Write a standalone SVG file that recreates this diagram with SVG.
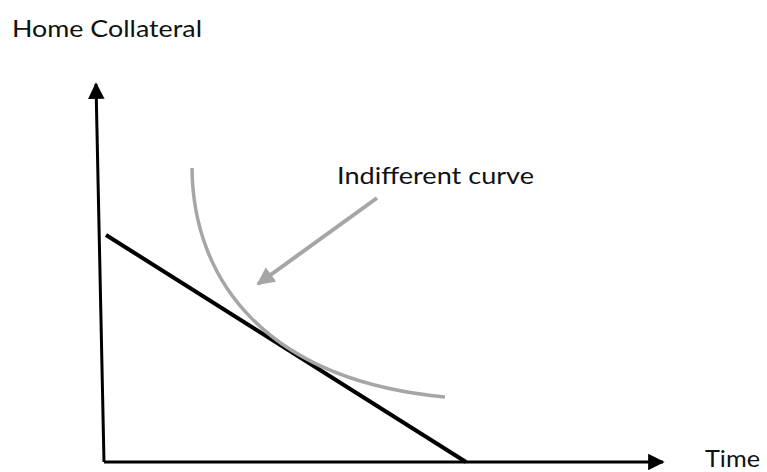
<svg xmlns="http://www.w3.org/2000/svg" width="767" height="472" viewBox="0 0 767 472">
<defs>
<style>
.lbl{font-family:Lato,"Open Sans","Liberation Sans",sans-serif;font-size:23.5px;fill:#111}
.axis{stroke:#000;stroke-width:3;fill:none}
</style>
<marker id="ah" viewBox="0 0 10 10" refX="9" refY="5" markerWidth="5.5" markerHeight="5.5" markerUnits="strokeWidth" orient="auto">
<path d="M0,0 L10,5 L0,10 Z" fill="#000"/>
</marker>
<marker id="gh" viewBox="0 0 10 10" refX="9" refY="5" markerWidth="4.5" markerHeight="4.5" markerUnits="strokeWidth" orient="auto">
<path d="M0,0 L10,5 L0,10 Z" fill="#a6a6a6"/>
</marker>
</defs>
<rect width="767" height="472" fill="#fff"/>
<g id="connectors">
<path id="y-axis" class="axis" d="M104,462 L96,84" marker-end="url(#ah)"/>
<path id="x-axis" class="axis" d="M104,462 L663,462" marker-end="url(#ah)"/>
<path id="budget-line" d="M106,235 L466,462" stroke="#000" stroke-width="4" fill="none"/>
<path id="indifference-curve" d="M192,168 C193,280 265,380 445,397" stroke="#a6a6a6" stroke-width="3.5" fill="none"/>
<path id="label-arrow" d="M377,198 L258,284" stroke="#a6a6a6" stroke-width="4" fill="none" marker-end="url(#gh)"/>
</g>
<g id="label-y"><text class="lbl" x="12" y="37" textLength="190" lengthAdjust="spacingAndGlyphs">Home Collateral</text></g>
<g id="label-x"><text class="lbl" x="705" y="467" textLength="55" lengthAdjust="spacingAndGlyphs">Time</text></g>
<g id="label-curve"><text class="lbl" x="337" y="184" textLength="197" lengthAdjust="spacingAndGlyphs">Indifferent curve</text></g>
</svg>
